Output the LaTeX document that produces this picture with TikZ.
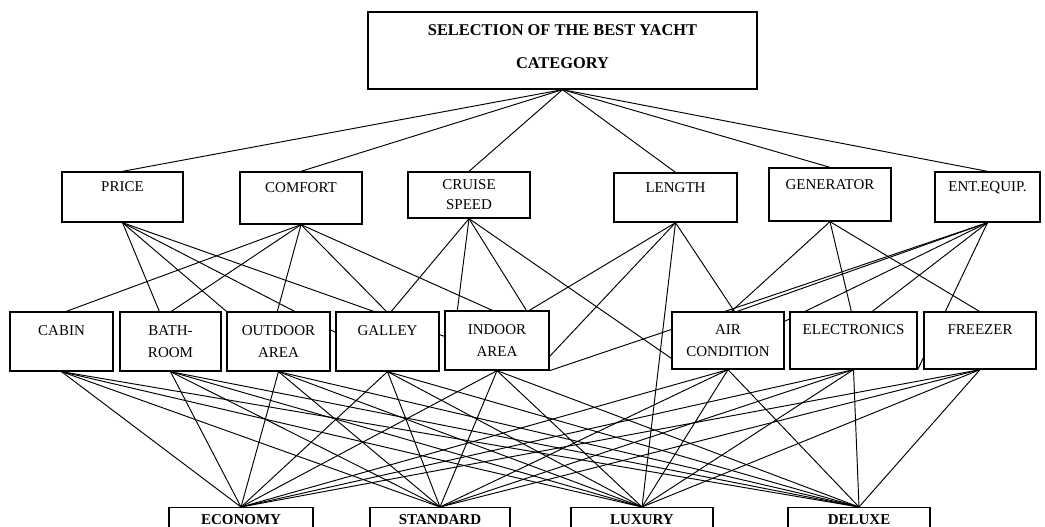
\documentclass[tikz,border=0pt]{standalone}
\usepackage{fontspec}
\setmainfont{Liberation Serif}
\usetikzlibrary{backgrounds}
\pgfdeclarelayer{bottom}
\pgfsetlayers{bottom,background,main}
\begin{document}
\begin{tikzpicture}[x=1pt,y=-1pt,
  boxbase/.style={draw=black,line width=1.3pt,fill=white,inner sep=0pt},
  goalbox/.style={boxbase,align=center,font=\fontsize{16.4}{33}\selectfont\bfseries},
  critbox/.style={boxbase,align=center,font=\fontsize{15}{20}\selectfont},
  subbox/.style={boxbase,align=center,font=\fontsize{15}{22}\selectfont},
  altbox/.style={boxbase,anchor=north,text height=17.3pt,text depth=22.7pt,font=\fontsize{15}{18}\selectfont\bfseries},
  link/.style={line width=0.95pt,black}]
\useasboundingbox (0,0) rectangle (1045,527);
\begin{pgfonlayer}{bottom}
\fill[white] (0,0) rectangle (1045,527);
\end{pgfonlayer}
% goal
\node[goalbox,minimum width=389pt,minimum height=77pt] (goal) at (562.5,50.5) {SELECTION OF THE BEST YACHT\\CATEGORY\\[-25pt]~};
% criteria
\node[critbox,minimum width=121pt,minimum height=50pt] (price) at (122.5,197) {PRICE\\~};
\node[critbox,minimum width=122pt,minimum height=52pt] (comfort) at (301,198) {COMFORT\\~};
\node[critbox,minimum width=122pt,minimum height=46pt] (cruise) at (469,195) {CRUISE\\SPEED};
\node[critbox,minimum width=123pt,minimum height=49pt] (length) at (675.5,197.5) {LENGTH\\~};
\node[critbox,minimum width=122pt,minimum height=53pt] (generator) at (830,194.5) {GENERATOR\\~};
\node[critbox,minimum width=105pt,minimum height=50pt] (entequip) at (987.5,197) {ENT.EQUIP.\\~};
% sub-criteria
\node[subbox,minimum width=103pt,minimum height=59pt] (cabin) at (61.5,341.5) {CABIN\\~};
\node[subbox,minimum width=101pt,minimum height=59pt] (bath) at (170.5,341.5) {BATH-\\ROOM};
\node[subbox,minimum width=103pt,minimum height=59pt] (outdoor) at (278.5,341.5) {OUTDOOR\\AREA};
\node[subbox,minimum width=103pt,minimum height=59pt] (galley) at (387.5,341.5) {GALLEY\\~};
\node[subbox,minimum width=104pt,minimum height=59pt] (indoor) at (497,340.5) {INDOOR\\AREA};
\node[subbox,minimum width=112pt,minimum height=57pt] (air) at (728,340.5) {AIR\\CONDITION};
\node[subbox,minimum width=127pt,minimum height=57pt] (elec) at (853.5,340.5) {ELECTRONICS\\~};
\node[subbox,minimum width=112pt,minimum height=57pt] (freezer) at (980,340.5) {FREEZER\\~};
% alternatives
\node[altbox,minimum width=144pt] (economy) at (241,507) {ECONOMY};
\node[altbox,minimum width=140pt] (standard) at (440,507) {STANDARD};
\node[altbox,minimum width=142pt] (luxury) at (642,507) {LUXURY};
\node[altbox,minimum width=142pt] (deluxe) at (859,507) {DELUXE};
\begin{scope}[on background layer]
% goal to criteria
\foreach \n in {price,comfort,cruise,length,generator,entequip}
  \draw[link] (goal.south) -- (\n.north);
% price
\draw[link] (price.south) -- ([xshift=40pt]bath.north west);
\draw[link] (price.south) -- (outdoor.north west);
\draw[link] (price.south) -- ([yshift=-21pt]galley.north west);
\draw[link] (price.south) -- ([yshift=-26pt]indoor.north west);
% comfort
\draw[link] (comfort.south) -- ([xshift=57pt]cabin.north west);
\draw[link] (comfort.south) -- ([xshift=52pt]bath.north west);
\draw[link] (comfort.south) -- ([xshift=51pt]outdoor.north west);
\draw[link] (comfort.south) -- ([xshift=51pt]galley.north west);
\draw[link] (comfort.south) -- ([xshift=48pt]indoor.north west);
% cruise speed
\draw[link] (cruise.south) -- ([xshift=56pt]galley.north west);
\draw[link] (cruise.south) -- ([xshift=13pt]indoor.north west);
\draw[link] (cruise.south) -- ([xshift=82pt]indoor.north west);
\draw[link] (cruise.south) -- ([yshift=-47pt]air.north west);
% length
\draw[link] (length.south) -- ([xshift=85pt]indoor.north west);
\draw[link] (length.south) -- ([yshift=-46pt]indoor.north east);
\draw[link] (length.south) -- (luxury.north);
\draw[link] (length.south) -- ([xshift=63pt]air.north west);
% generator
\draw[link] (generator.south) -- ([xshift=60pt]air.north west);
\draw[link] (generator.south) -- ([xshift=62pt]elec.north west);
\draw[link] (generator.south) -- ([xshift=56pt]freezer.north west);
% ent. equip.
\draw[link] (entequip.south) -- ([xshift=66pt]air.north west);
\draw[link] (entequip.south) -- (indoor.south east);
\draw[link] (entequip.south) -- ([yshift=-10pt]air.north east);
\draw[link] (entequip.south) -- ([xshift=83pt]elec.north west);
\draw[link] (entequip.south) -- (elec.south east);
% sub-criteria to alternatives
\foreach \a in {cabin,bath,outdoor,galley,indoor,air,elec,freezer}
  \foreach \b in {economy,standard,luxury,deluxe}
    \draw[link] (\a.south) -- (\b.north);
\end{scope}
\end{tikzpicture}
\end{document}
